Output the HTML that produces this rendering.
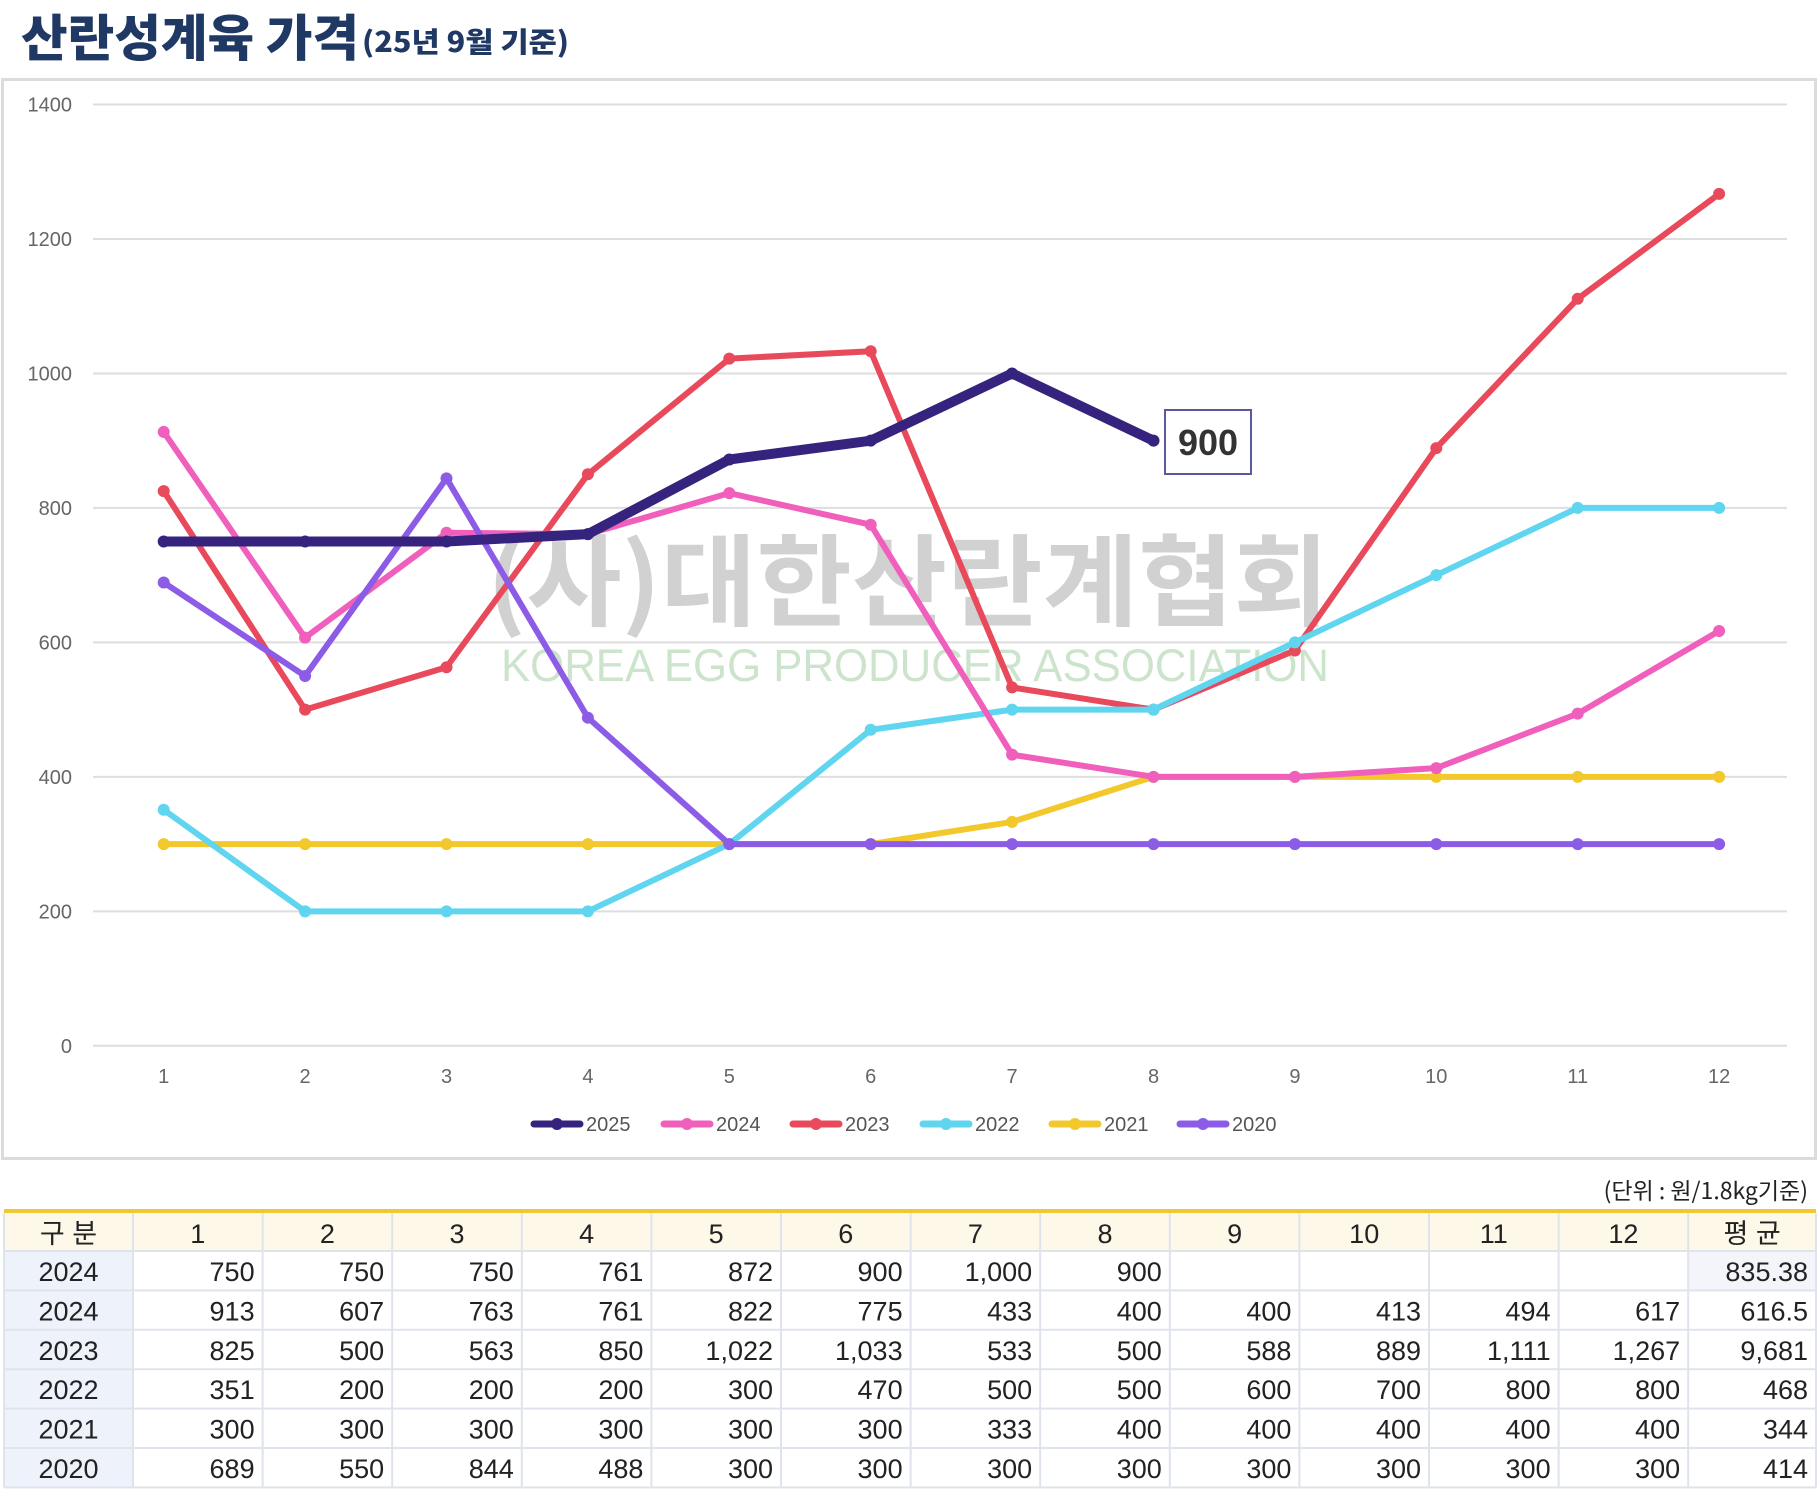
<!DOCTYPE html>
<html><head><meta charset="utf-8">
<style>
html,body{margin:0;padding:0;background:#fff;}
body{width:1820px;height:1492px;overflow:hidden;position:relative;font-family:"Liberation Sans","Noto Sans CJK KR",sans-serif;}
svg{position:absolute;left:0;top:0;}
</style></head>
<body>
<svg id="s" width="1820" height="1492" viewBox="0 0 1820 1492" xmlns="http://www.w3.org/2000/svg">
<text x="21" y="56" textLength="338" lengthAdjust="spacingAndGlyphs" font-family="'Noto Sans CJK KR',sans-serif" font-weight="900" font-size="50" fill="#1f3864">산란성계육 가격</text>
<text x="362" y="52" textLength="207" lengthAdjust="spacingAndGlyphs" font-family="'Noto Sans CJK KR',sans-serif" font-weight="900" font-size="28" fill="#1f3864">(25년 9월 기준)</text>
<rect x="2.5" y="79.5" width="1813" height="1079" fill="#fff" stroke="#dcdcdc" stroke-width="3"/>
<g id="grid"></g>
<text x="487" y="618" textLength="842" lengthAdjust="spacingAndGlyphs" font-family="'Noto Sans CJK KR',sans-serif" font-weight="700" font-size="100" fill="#9a9a9a" fill-opacity="0.45">(사)대한산란계협회</text>
<text x="501" y="681" textLength="828" lengthAdjust="spacingAndGlyphs" font-family="'Liberation Sans',sans-serif" font-size="45" fill="#8fc08f" fill-opacity="0.45">KOREA EGG PRODUCER ASSOCIATION</text>
<g id="series"></g>
<rect x="1165" y="410" width="86" height="64" fill="#fff" stroke="#5a5a9a" stroke-width="2"/>
<text x="1208" y="455" text-anchor="middle" font-size="36" font-weight="bold" fill="#333">900</text>
<g id="legend"></g>
<text x="1808" y="1199" text-anchor="end" font-family="'Noto Sans CJK KR',sans-serif" font-size="23" fill="#222">(단위 : 원/1.8kg기준)</text>
<g id="table"></g>
</svg>
<script>
(function(){
var NS="http://www.w3.org/2000/svg";
function el(p,t,a,txt){var e=document.createElementNS(NS,t);for(var k in a)e.setAttribute(k,a[k]);if(txt!=null)e.textContent=txt;p.appendChild(e);return e;}
var X=function(m){return 163.7+(m-1)*141.4;}, Y=function(v){return 1045.8-v*0.67236;};
var g=document.getElementById('grid');
for(var v=0;v<=1400;v+=200){el(g,'line',{x1:93,x2:1787,y1:Y(v),y2:Y(v),stroke:'#dedede','stroke-width':2});
el(g,'text',{x:72,y:Y(v)+7,'text-anchor':'end','font-size':20,fill:'#666'},v);}
for(var m=1;m<=12;m++)el(g,'text',{x:X(m),y:1083,'text-anchor':'middle','font-size':20,fill:'#666'},m);
var S={
'2021':['#f2c82c',[300,300,300,300,300,300,333,400,400,400,400,400],6],
'2023':['#e84a5c',[825,500,563,850,1022,1033,533,500,588,889,1111,1267],6],
'2022':['#5fd5ef',[351,200,200,200,300,470,500,500,600,700,800,800],6],
'2024':['#ef5fbb',[913,607,763,761,822,775,433,400,400,413,494,617],6],
'2020':['#8c5ce6',[689,550,844,488,300,300,300,300,300,300,300,300],6],
'2025':['#35237d',[750,750,750,761,872,900,1000,900],10]};
var sg=document.getElementById('series');
['2021','2023','2022','2024','2020','2025'].forEach(function(k){var s=S[k];
var pts=s[1].map(function(v,i){return X(i+1)+','+Y(v);}).join(' ');
el(sg,'polyline',{points:pts,fill:'none',stroke:s[0],'stroke-width':s[2],'stroke-linejoin':'round','stroke-linecap':'round'});
s[1].forEach(function(v,i){el(sg,'circle',{cx:X(i+1),cy:Y(v),r:6,fill:s[0]});});});
var lg=document.getElementById('legend');
var lx={'2025':534,'2024':664,'2023':793,'2022':923,'2021':1052,'2020':1180};
for(var k in lx){var c=S[k][0],x=lx[k];
el(lg,'line',{x1:x,x2:x+46,y1:1124,y2:1124,stroke:c,'stroke-width':7,'stroke-linecap':'round'});
el(lg,'circle',{cx:x+23,cy:1124,r:6,fill:c});
el(lg,'text',{x:x+52,y:1131,'font-size':20,fill:'#555'},k);}
var tg=document.getElementById('table');
var rows=[['2024',750,750,750,761,872,900,'1,000',900,'','','','','835.38'],
['2024',913,607,763,761,822,775,433,400,400,413,494,617,'616.5'],
['2023',825,500,563,850,'1,022','1,033',533,500,588,889,'1,111','1,267','9,681'],
['2022',351,200,200,200,300,470,500,500,600,700,800,800,468],
['2021',300,300,300,300,300,300,333,400,400,400,400,400,344],
['2020',689,550,844,488,300,300,300,300,300,300,300,300,414]];
var cx=[4,133];for(var i=1;i<=12;i++)cx.push(133+i*129.6);cx.push(1816);
var T=1213,hh=38,rh=39.4;
el(tg,'rect',{x:4,y:T,width:1812,height:hh,fill:'#fdf8e8'});
for(var r=0;r<6;r++){var y=T+hh+r*rh;el(tg,'rect',{x:4,y:y,width:129,height:rh,fill:'#eef2fb'});}
el(tg,'rect',{x:cx[13],y:T+hh,width:1816-cx[13],height:rh,fill:'#f4f5fa'});
for(var i=0;i<cx.length;i++)el(tg,'line',{x1:cx[i],x2:cx[i],y1:T,y2:T+hh+6*rh,stroke:'#dfe3ec','stroke-width':2});
for(var r=0;r<=6;r++){var y=T+hh+r*rh;el(tg,'line',{x1:4,x2:1816,y1:y,y2:y,stroke:'#dfe3ec','stroke-width':2});}
el(tg,'line',{x1:4,x2:1816,y1:1211,y2:1211,stroke:'#f0c832','stroke-width':4});
var hdr=['구 분',1,2,3,4,5,6,7,8,9,10,11,12,'평 균'];
hdr.forEach(function(h,i){el(tg,'text',{x:(cx[i]+cx[i+1])/2,y:T+30,'text-anchor':'middle','font-size':27,fill:'#222','font-family':"'Liberation Sans','Noto Sans CJK KR',sans-serif"},h);});
rows.forEach(function(row,r){var y=T+hh+r*rh+30;row.forEach(function(v,i){
if(i==0)el(tg,'text',{x:(cx[0]+cx[1])/2,y:y,'text-anchor':'middle','font-size':27,fill:'#222'},v);
else el(tg,'text',{x:cx[i+1]-8,y:y,'text-anchor':'end','font-size':27,fill:'#222'},v);});});
})();
</script>
</body></html>
